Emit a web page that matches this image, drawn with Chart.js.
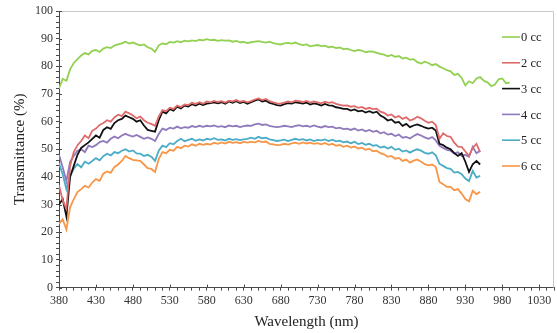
<!DOCTYPE html>
<html>
<head>
<meta charset="utf-8">
<script src="https://cdn.jsdelivr.net/npm/chart.js@4"></script>
<style>
  html, body { margin: 0; padding: 0; background: #fff; }
  #wrap { width: 557px; height: 333px; }
</style>
</head>
<body>
<div id="wrap"><canvas id="chart" width="557" height="333"></canvas></div>
<script>
// wavelength grid (nm)
const wavelengths = [
  380,385,390,395,400,405,410,415,420,425,430,435,440,445,450,455,460,465,470,475,
  480,485,490,495,500,505,510,515,520,525,530,535,540,545,550,555,560,565,570,575,
  580,585,590,595,600,605,610,615,620,625,630,635,640,645,650,655,660,665,670,675,
  680,685,690,695,700,705,710,715,720,725,730,735,740,745,750,755,760,765,770,775,
  780,785,790,795,800,805,810,815,820,825,830,835,840,845,850,855,860,865,870,875,
  880,885,890,895,900,905,910,915,920,925,930,935,940,945,950,955,960,965,970,975,
  980,985,990
];

const seriesNames = ["0 cc", "2 cc", "3 cc", "4 cc", "5 cc", "6 cc"];
const seriesColors = ["#92d050", "#e06b6b", "#111111", "#9079bd", "#4bacc6", "#f79646"];

const cc0 = [
  72.0,75.4,74.8,78.9,81.2,82.6,83.9,84.8,84.3,85.6,85.9,85.2,86.4,86.9,86.6,87.5,87.9,88.3,88.9,88.2,
  88.6,88.0,87.6,87.9,86.9,86.4,85.2,87.6,88.3,88.0,88.8,88.6,89.1,88.7,89.3,89.0,89.4,89.1,89.6,89.4,
  89.8,89.5,89.6,89.2,89.5,89.3,89.4,88.9,89.2,88.7,88.8,88.4,88.7,88.9,89.1,88.8,88.6,88.9,88.4,88.1,
  87.9,88.3,88.5,88.2,88.6,88.0,87.7,87.9,87.2,87.5,87.7,87.3,87.5,86.9,87.1,86.6,86.8,86.2,86.4,85.9,
  85.5,85.9,85.7,85.1,85.4,85.3,84.9,84.5,84.2,83.6,84.1,83.4,83.7,82.8,83.1,82.4,82.6,81.5,81.0,81.7,
  81.2,80.4,80.8,79.9,79.3,78.6,78.2,76.9,77.3,75.8,73.1,74.6,73.9,75.6,76.1,74.8,74.2,72.8,73.4,75.3,
  75.6,73.9,74.1
];
const cc2 = [
  37.0,31.5,28.5,44.0,49.0,51.5,53.0,55.0,54.0,56.7,57.5,58.8,59.5,60.5,60.0,61.5,62.5,62.0,63.6,63.0,
  62.2,61.2,61.8,60.5,59.6,59.2,58.5,61.8,64.2,63.8,65.0,64.6,65.8,65.3,66.2,66.0,66.8,66.4,67.0,66.5,
  67.3,67.0,67.5,67.1,67.4,66.9,67.6,67.3,67.8,67.2,67.5,67.0,67.4,68.0,68.4,67.8,68.2,67.4,67.0,66.6,
  66.5,66.9,67.3,67.0,67.6,67.4,67.1,67.5,66.9,67.3,67.0,66.6,67.2,66.8,67.0,66.4,66.1,65.8,65.9,65.4,
  65.6,65.0,65.3,64.6,65.0,64.5,64.7,63.6,63.2,62.2,62.6,61.5,62.0,61.0,61.6,60.4,60.9,61.8,61.2,60.3,
  59.6,60.0,58.8,53.8,55.8,54.8,54.5,52.4,51.0,50.9,49.2,47.6,50.5,52.0,49.0
];
const cc3 = [
  30.0,32.0,25.8,40.0,44.0,48.0,50.5,51.5,52.5,53.8,55.0,54.2,57.0,58.0,57.4,59.5,60.5,61.0,62.2,61.6,
  61.0,60.0,60.5,58.6,57.0,56.7,56.4,60.5,63.6,63.0,64.5,64.0,65.4,64.8,65.8,65.5,66.3,65.8,66.5,66.0,
  66.5,66.7,67.0,66.6,67.0,66.5,67.3,66.8,67.4,66.7,67.1,66.5,67.0,67.6,68.0,67.3,67.6,66.8,66.4,66.0,
  65.8,66.3,66.7,66.5,67.0,66.8,66.5,66.9,66.2,66.6,66.3,65.8,66.4,65.9,65.8,65.2,65.0,64.6,64.6,64.0,
  64.4,63.7,64.0,63.3,63.8,63.2,63.6,62.2,61.5,60.4,60.8,59.6,59.9,58.5,59.2,58.0,58.6,59.0,58.5,57.9,
  57.5,57.8,56.8,52.0,51.5,50.6,50.0,48.6,47.6,48.6,45.5,41.8,44.6,45.8,44.5
];
const cc4 = [
  48.0,43.5,38.5,45.5,47.6,49.5,50.0,49.0,51.3,50.8,51.5,52.6,53.0,52.4,53.8,54.6,54.0,55.0,55.6,55.0,
  54.6,55.2,54.5,53.8,54.3,53.8,53.0,55.5,57.5,57.0,57.8,57.5,58.2,57.6,58.0,57.8,58.4,58.0,58.5,58.1,
  58.5,58.3,58.6,58.1,58.4,58.0,58.6,58.3,58.5,58.0,58.4,58.6,58.5,59.0,59.3,58.8,59.0,58.5,58.2,58.0,
  58.2,58.5,58.3,58.0,58.5,58.7,58.3,58.5,58.1,58.6,58.2,57.9,58.4,58.0,58.2,57.6,57.8,57.3,57.5,57.0,
  57.5,56.8,57.2,56.5,57.0,56.3,56.7,55.8,56.2,55.3,55.6,54.8,55.3,54.2,54.5,53.9,54.8,55.5,55.0,54.3,
  53.8,54.4,53.2,51.3,50.5,49.8,49.5,48.5,48.9,47.6,48.0,47.3,50.9,48.6,49.5
];
const cc5 = [
  45.0,41.0,35.6,40.5,43.0,44.7,43.5,45.5,44.8,45.8,46.8,46.0,47.5,48.4,47.8,49.0,48.6,49.5,50.0,49.2,
  49.6,48.5,48.4,47.6,48.0,47.3,45.8,49.5,51.3,50.8,52.2,51.8,53.0,53.8,52.9,53.4,53.8,53.1,53.6,53.2,
  53.8,53.5,54.0,53.4,53.6,53.2,53.8,53.4,53.7,53.3,53.6,53.8,54.2,53.8,54.5,54.0,54.2,53.6,53.3,53.0,
  53.2,53.5,53.0,53.4,53.8,53.4,53.7,53.2,53.6,53.0,53.4,53.2,53.6,53.0,53.5,52.9,53.1,52.5,52.8,52.2,
  52.7,51.9,52.3,51.6,52.0,51.3,51.5,50.6,51.0,50.3,50.9,49.8,50.2,49.2,49.6,48.8,49.5,50.0,49.5,48.7,
  48.4,48.9,47.8,44.7,44.0,43.2,42.9,41.6,41.8,41.0,39.4,38.5,42.2,39.8,40.4
];
const cc6 = [
  23.0,24.7,21.0,29.0,32.0,34.5,35.6,36.8,36.2,38.0,39.2,38.6,41.2,42.0,41.5,43.6,44.5,45.8,47.6,46.8,
  46.2,46.0,45.8,44.5,43.2,42.9,41.8,46.5,49.0,48.6,49.8,49.5,50.9,50.4,51.3,51.0,51.8,51.3,52.0,51.6,
  52.0,51.7,52.4,52.0,52.5,52.1,52.7,52.3,52.6,52.2,52.7,52.4,52.7,52.5,53.0,52.6,52.8,52.0,51.8,51.5,
  51.6,52.0,51.7,52.1,52.4,52.0,52.5,52.1,52.4,52.0,52.2,51.8,52.3,51.6,52.0,51.3,51.6,50.9,51.3,50.6,
  51.0,50.3,50.6,49.8,50.2,49.3,49.5,48.6,48.2,47.3,47.6,46.6,46.9,45.8,46.3,45.2,45.9,46.3,45.5,44.6,
  44.2,44.5,43.6,38.2,37.4,36.4,36.4,35.2,35.6,34.0,32.0,31.2,35.0,33.8,34.6
];

const xTickLabels = [380,430,480,530,580,630,680,730,780,830,880,930,980,1030];
const yTickLabels = [0,10,20,30,40,50,60,70,80,90,100];

const allSeries = [cc0, cc2, cc3, cc4, cc5, cc6];
const FONT = "'Liberation Serif', 'Times New Roman', serif";
const AXIS = "#4a4a4a";

// major ticks cross the axis line, frame on top/right
const axisExtras = {
    id: "axisExtras",
    afterDraw(chart) {
        const { ctx, chartArea: a, scales } = chart;
        ctx.save();
        ctx.strokeStyle = "#c8c8c8";
        ctx.lineWidth = 1;
        ctx.beginPath();
        ctx.moveTo(a.left, a.top + 0.5);
        ctx.lineTo(a.right - 0.5, a.top + 0.5);
        ctx.lineTo(a.right - 0.5, a.bottom);
        ctx.stroke();

        ctx.strokeStyle = AXIS;
        ctx.beginPath();
        xTickLabels.forEach(v => {
            const px = Math.round(scales.x.getPixelForValue(v)) + 0.5;
            ctx.moveTo(px, a.bottom);
            ctx.lineTo(px, a.bottom - 3);
        });
        yTickLabels.forEach(v => {
            const py = Math.round(scales.y.getPixelForValue(v)) + 0.5;
            ctx.moveTo(a.left, py);
            ctx.lineTo(a.left + 3, py);
        });
        ctx.stroke();
        ctx.restore();
    }
};

// legend inside the plot, stacked on the right
const sideLegend = {
    id: "sideLegend",
    afterDraw(chart) {
        const ctx = chart.ctx;
        ctx.save();
        ctx.font = "12.5px " + FONT;
        ctx.textBaseline = "middle";
        chart.data.datasets.forEach((ds, i) => {
            const y = 37 + i * 25.8;
            ctx.strokeStyle = ds.borderColor;
            ctx.lineWidth = 1.6;
            ctx.beginPath();
            ctx.moveTo(502, y);
            ctx.lineTo(520, y);
            ctx.stroke();
            ctx.fillStyle = "#222";
            ctx.fillText(ds.label, 521, y + 1);
        });
        ctx.restore();
    }
};

const datasets = allSeries.map((vals, i) => ({
    label: seriesNames[i],
    data: vals.map((v, j) => ({ x: wavelengths[j], y: v })),
    borderColor: seriesColors[i],
    borderWidth: 1.8,
    pointRadius: 0,
    tension: 0,
    fill: false
}));

new Chart(document.getElementById("chart"), {
    type: "line",
    data: { datasets },
    options: {
        responsive: false,
        animation: false,
        layout: { padding: { left: 11, right: 2, top: 11, bottom: 2 } },
        plugins: {
            legend: { display: false },
            tooltip: { enabled: false }
        },
        scales: {
            x: {
                type: "linear",
                min: 380,
                max: 1050,
                border: { display: true, color: AXIS, width: 1 },
                grid: { drawOnChartArea: false, drawTicks: true, tickLength: 3, color: AXIS },
                ticks: {
                    stepSize: 10,
                    autoSkip: false,
                    maxRotation: 0,
                    padding: 3,
                    color: "#333",
                    font: { family: FONT, size: 12 },
                    callback: v => xTickLabels.includes(v) ? String(v) : ""
                },
                title: {
                    display: true,
                    text: "Wavelength (nm)",
                    color: "#222",
                    font: { family: FONT, size: 15 },
                    padding: { top: 2, bottom: 0 }
                }
            },
            y: {
                min: 0,
                max: 100,
                border: { display: true, color: AXIS, width: 1 },
                grid: { drawOnChartArea: false, drawTicks: true, tickLength: 3, color: AXIS },
                ticks: {
                    stepSize: 2,
                    autoSkip: false,
                    padding: 3,
                    color: "#333",
                    font: { family: FONT, size: 12 },
                    callback: v => yTickLabels.includes(v) ? String(v) : ""
                },
                title: {
                    display: true,
                    text: "Transmittance (%)",
                    color: "#222",
                    font: { family: FONT, size: 15 },
                    padding: { top: 0, bottom: 3 }
                }
            }
        }
    },
    plugins: [axisExtras, sideLegend]
});
</script>
</body>
</html>
